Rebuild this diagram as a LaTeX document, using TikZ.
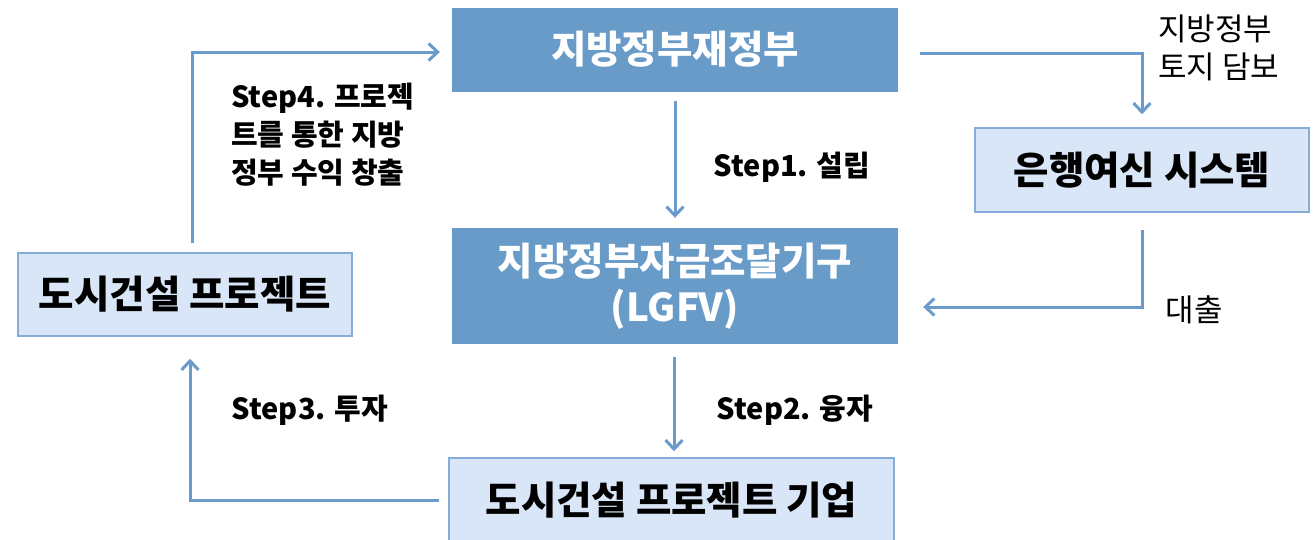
\documentclass[tikz,border=0pt]{standalone}
\usepackage{fontspec}
\setmainfont{Noto Sans CJK KR}
\usetikzlibrary{arrows.meta,calc}
\definecolor{darkbox}{HTML}{689BC8}
\definecolor{lightbox}{HTML}{D9E6F7}
\definecolor{lightborder}{HTML}{86ACDA}
\definecolor{arrowc}{HTML}{6A9BCB}
\begin{document}
\begin{tikzpicture}[x=1pt,y=-1pt,
  darkb/.style={rectangle, fill=darkbox, draw=none, text=white, font=\fontsize{38.5}{46}\selectfont\bfseries, align=center, inner sep=0pt},
  lightb/.style={rectangle, fill=lightbox, draw=lightborder, line width=1.5pt, text=black, font=\fontsize{38.5}{46}\selectfont\bfseries, align=center, inner sep=0pt},
  arr/.style={draw=arrowc, line width=3pt, -{Straight Barb[length=9pt,width=17pt,line width=3pt]}},
  lbl/.style={font=\fontsize{29}{38}\selectfont\bfseries, text=black, inner sep=0pt},
  lblr/.style={font=\fontsize{31}{38}\selectfont, text=black, inner sep=0pt}
]
\useasboundingbox (0,0) rectangle (1313,539);
\fill[white] (0,0) rectangle (1313,539);
\node[darkb, minimum width=446pt, minimum height=84pt] (top) at (675,49.5) {지방정부재정부};
\node[darkb, minimum width=446pt, minimum height=116pt] (lgfv) at (675,286) {지방정부자금조달기구\\(LGFV)};
\node[lightb, minimum width=445pt, minimum height=84pt] (bot) at (671.5,500) {도시건설 프로젝트 기업};
\node[lightb, minimum width=334pt, minimum height=83pt] (left) at (185,294.5) {도시건설 프로젝트};
\node[lightb, minimum width=334pt, minimum height=84pt] (right) at (1142,170) {은행여신 시스템};

\draw[arr, shorten <=9pt, shorten >=10pt] (top.south) -- (lgfv.north);
\draw[arr, shorten <=13pt, shorten >=6pt] ($(lgfv.south)+(-1,0)$) -- ($(lgfv.south |- bot.north)+(-1,0)$);
\draw[arr, shorten <=9pt, shorten >=22pt] (bot.west) -| ($(left.south)+(5,0)$);
\draw[arr, shorten <=9pt, shorten >=12pt] ($(left.north)+(7,0)$) |- ($(top.west)+(0,2.5)$);
\draw[arr, shorten <=22pt, shorten >=13pt] ($(top.east)+(0,3.5)$) -| (right.north);
\draw[arr, shorten <=17pt, shorten >=25pt] (right.south) |- ($(lgfv.east)+(0,21)$);

\node[lbl] (s1) at (792,167) {Step1. 설립};
\node[lbl] (s2) at (795,410) {Step2. 융자};
\node[lbl] (s3) at (310,410) {Step3. 투자};
\node[lbl, align=left, anchor=west] (s4) at (231,135) {Step4. 프로젝\\트를 통한 지방\\정부 수익 창출};
\node[lblr, align=left, anchor=west] (land) at (1158,48) {지방정부\\토지 담보};
\node[lblr] (loan) at (1194,310) {대출};
\end{tikzpicture}
\end{document}
